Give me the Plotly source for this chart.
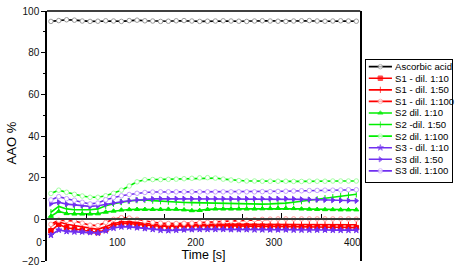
import plotly.graph_objects as go

# time points [s]
time_s = [5, 15, 25, 35, 45, 55, 65, 75, 85, 95,
          105, 115, 125, 135, 145, 155, 165, 175, 185, 195,
          205, 215, 225, 235, 245, 255, 265, 275, 285, 295,
          305, 315, 325, 335, 345, 355, 365, 375, 385, 395]

ascorbic = [95.0, 95.4, 95.8, 95.6, 95.2, 95.0, 95.1, 95.3, 95.2, 95.0,
            95.4, 95.6, 95.3, 95.2, 95.0, 95.1, 95.3, 95.4, 95.2, 95.0,
            95.1, 95.2, 95.3, 95.2, 95.1, 95.0, 95.2, 95.3, 95.2, 95.1,
            95.0, 95.2, 95.3, 95.4, 95.2, 95.1, 95.2, 95.3, 95.2, 95.1]

s1_10 = [-5.5, -2.4, -4.0, -4.6, -5.2, -5.8, -6.3, -5.0, -2.8, -2.0,
         -2.0, -2.4, -2.8, -3.1, -3.3, -3.3, -3.2, -3.0, -2.9, -2.9,
         -3.0, -3.0, -3.1, -3.1, -3.2, -3.2, -3.3, -3.3, -3.4, -3.4,
         -3.5, -3.5, -3.6, -3.6, -3.7, -3.7, -3.8, -3.8, -3.9, -4.0]
s1_50 = [-3.2, -1.2, -2.4, -3.0, -3.6, -4.2, -4.8, -3.5, -2.0, -1.3,
         -1.2, -1.6, -2.0, -2.4, -2.7, -2.8, -2.7, -2.6, -2.5, -2.4,
         -2.3, -2.2, -2.2, -2.3, -2.4, -2.4, -2.4, -2.4, -2.4, -2.4,
         -2.4, -2.4, -2.4, -2.4, -2.5, -2.5, -2.5, -2.5, -2.6, -2.6]
s1_100 = [-2.4, -0.4, -0.6, -0.8, -1.8, -2.8, -3.0, -1.5, 0.0, 0.8,
          0.6, 0.0, -0.8, -1.4, -1.8, -2.0, -2.0, -1.9, -1.8, -1.6,
          -1.4, -1.2, -1.0, -0.8, -0.6, -0.4, -0.2, 0.0, 0.1, 0.2,
          0.2, 0.2, 0.2, 0.2, 0.2, 0.2, 0.2, 0.2, 0.2, 0.1]

s2_10 = [1.5, 3.8, 2.8, 2.6, 2.6, 2.6, 2.7, 3.5, 4.0, 4.5,
         4.7, 4.8, 4.8, 4.8, 4.8, 4.9, 4.9, 4.6, 4.2, 4.3,
         4.8, 5.0, 5.0, 5.0, 5.0, 5.0, 5.0, 5.1, 5.2, 5.3,
         5.3, 5.2, 5.0, 4.9, 4.8, 4.7, 4.7, 4.6, 4.6, 4.6]
s2_50 = [3.4, 6.2, 5.0, 4.6, 4.6, 4.6, 5.0, 6.5, 7.5, 8.3,
         8.8, 9.2, 9.3, 9.0, 8.7, 8.5, 8.3, 8.1, 8.0, 7.9,
         7.8, 7.8, 7.7, 7.6, 7.5, 7.4, 7.3, 7.3, 7.4, 7.5,
         7.8, 8.2, 8.7, 9.2, 9.6, 10.1, 10.6, 11.1, 11.6, 12.0]
s2_100 = [12.4, 14.0, 13.0, 12.0, 11.2, 10.6, 10.6, 11.3, 12.5, 14.0,
          16.0, 18.0, 19.0, 19.1, 19.1, 19.2, 19.3, 19.5, 19.7, 19.9,
          20.0, 19.8, 19.3, 18.9, 18.6, 18.4, 18.4, 18.3, 18.3, 18.3,
          18.3, 18.2, 18.2, 18.3, 18.3, 18.3, 18.4, 18.4, 18.4, 18.4]

s3_10 = [-7.6, -5.1, -5.8, -6.0, -6.0, -6.3, -6.6, -5.5, -4.2, -3.6,
         -3.6, -4.0, -4.4, -4.8, -5.2, -5.4, -5.2, -5.0, -4.9, -4.8,
         -4.8, -4.8, -4.8, -4.9, -4.9, -4.9, -5.0, -5.0, -5.0, -5.0,
         -5.0, -5.1, -5.1, -5.1, -5.1, -5.1, -5.2, -5.2, -5.2, -5.2]
s3_50 = [7.5, 8.2, 7.3, 7.0, 6.6, 6.2, 6.5, 7.2, 7.9, 8.4,
         8.9, 9.3, 9.6, 9.8, 9.9, 9.9, 9.9, 9.9, 9.9, 9.9,
         9.9, 9.9, 9.9, 9.9, 9.9, 9.9, 9.9, 9.9, 9.9, 9.9,
         9.9, 9.8, 9.6, 9.5, 9.4, 9.3, 9.2, 9.1, 9.0, 8.9]
s3_100 = [9.3, 10.9, 9.9, 9.2, 8.2, 7.4, 7.8, 9.4, 10.5, 11.3,
          11.9, 12.5, 12.9, 13.1, 13.2, 13.2, 13.2, 13.2, 13.2, 13.2,
          13.2, 13.2, 13.2, 13.2, 13.2, 13.2, 13.2, 13.3, 13.3, 13.4,
          13.5, 13.6, 13.7, 13.8, 13.9, 14.0, 14.0, 14.1, 14.2, 14.2]

series_names = ["Ascorbic acid", "S1 - dil. 1:10", "S1 - dil. 1:50", "S1 - dil. 1:100",
                "S2 dil. 1:10", "S2 -dil. 1:50", "S2 dil. 1:100",
                "S3 - dil. 1:10", "S3 dil. 1:50", "S3 dil. 1:100"]
series_values = [ascorbic, s1_10, s1_50, s1_100, s2_10, s2_50, s2_100, s3_10, s3_50, s3_100]

RED, GREEN, PURPLE = "#ff0000", "#00ee00", "#7030f0"
# (line colour, marker symbol, marker fill, marker outline)
styles = [
    ("#000000", "circle", "#ffffff", "#9a9a9a"),
    (RED, "square", RED, RED),
    (RED, "line-ns-open", RED, RED),
    (RED, "circle", "#ffffff", "#ff9a9a"),
    (GREEN, "triangle-up", GREEN, GREEN),
    (GREEN, "line-ns-open", GREEN, GREEN),
    (GREEN, "circle", "#ffffff", "#a0ffa0"),
    (PURPLE, "star", PURPLE, PURPLE),
    (PURPLE, "triangle-right", PURPLE, PURPLE),
    (PURPLE, "circle", "#ffffff", "#c8a0ff"),
]

FONT = "Liberation Sans, Arial, sans-serif"
W, H = 459, 272
ML, MR, MT, MB = 47, 5, 8, 8
plot_w = W - ML - MR
plot_h = H - MT - MB
x_end = 314 / plot_w  # right edge of main plot in paper coords

fig = go.Figure()

for name, vals, (lc, sym, fill, edge) in zip(series_names, series_values, styles):
    fig.add_trace(go.Scatter(
        x=time_s, y=vals, name=name, mode="lines+markers",
        line=dict(color=lc, width=1.6),
        marker=dict(symbol=sym, size=4.5, color=fill, line=dict(color=edge, width=1)),
        showlegend=False,
    ))

# hand-built legend (plotly's legend rows are too tall for this layout)
for i, (name, (lc, sym, fill, edge)) in enumerate(zip(series_names, styles)):
    fig.add_trace(go.Scatter(
        x=[0.03, 0.165, 0.3], y=[i, i, i], mode="lines+markers",
        line=dict(color=lc, width=1.6),
        marker=dict(symbol=sym, size=[0, 4.5, 0], color=fill, line=dict(color=edge, width=1)),
        xaxis="x2", yaxis="y2", showlegend=False, hoverinfo="skip",
    ))
    fig.add_annotation(x=0.315, y=i, xref="x2", yref="y2", text=name, showarrow=False,
                       xanchor="left", yanchor="middle",
                       font=dict(size=9.6, color="#000000", family=FONT))

fig.add_annotation(x=(11 - ML) / plot_w, y=1 - (143.5 - MT) / plot_h,
                   xref="paper", yref="paper", text="AAO %", textangle=-90,
                   xanchor="center", yanchor="middle",
                   showarrow=False, font=dict(size=13, color="#000000", family=FONT))

fig.add_shape(type="line", xref="paper", yref="paper", x0=0, x1=x_end, y0=1, y1=1,
              line=dict(color="#000000", width=1.5))

fig.update_layout(
    width=W, height=H,
    margin=dict(l=ML, r=MR, t=MT, b=MB),
    paper_bgcolor="white", plot_bgcolor="white",
    font=dict(family=FONT, size=10, color="#111111"),
    xaxis=dict(
        domain=[0, x_end], anchor="free", position=20 / 120,
        range=[0, 400], dtick=100, showgrid=False, zeroline=False,
        showline=True, linecolor="#3a3a3a", linewidth=2,
        ticks="inside", ticklen=5, tickcolor="#000000", tickwidth=1,
        minor=dict(dtick=50, ticks="inside", ticklen=4, tickcolor="#000000"),
        ticklabelshift=-8, ticklabelstandoff=14,
        title=dict(text="Time [s]", font=dict(size=12.5, color="#000000"), standoff=0),
        tickfont=dict(size=10, color="#111111"),
    ),
    yaxis=dict(
        domain=[0, 1], range=[-20, 100], dtick=20, showgrid=False, zeroline=False,
        showline=True, linecolor="#000000", linewidth=1.5, mirror=True,
        ticks="outside", ticklen=4, tickcolor="#000000",
        minor=dict(dtick=10, ticks="outside", ticklen=2, tickcolor="#000000"),
        tickfont=dict(size=10, color="#111111"),
    ),
    xaxis2=dict(
        domain=[(367 - ML) / plot_w, (453 - ML) / plot_w], anchor="y2",
        range=[0, 1], showline=True, mirror=True, linecolor="#000000", linewidth=1,
        showticklabels=False, ticks="", showgrid=False, zeroline=False, fixedrange=True,
    ),
    yaxis2=dict(
        domain=[1 - (183 - MT) / plot_h, 1 - (58 - MT) / plot_h], anchor="x2",
        range=[9.95, -0.59], showline=True, mirror=True, linecolor="#000000", linewidth=1,
        showticklabels=False, ticks="", showgrid=False, zeroline=False, fixedrange=True,
    ),
)

fig.write_html("out.html", config={"displayModeBar": False},
               post_script="document.body.style.margin='0';document.body.style.overflow='hidden';")
